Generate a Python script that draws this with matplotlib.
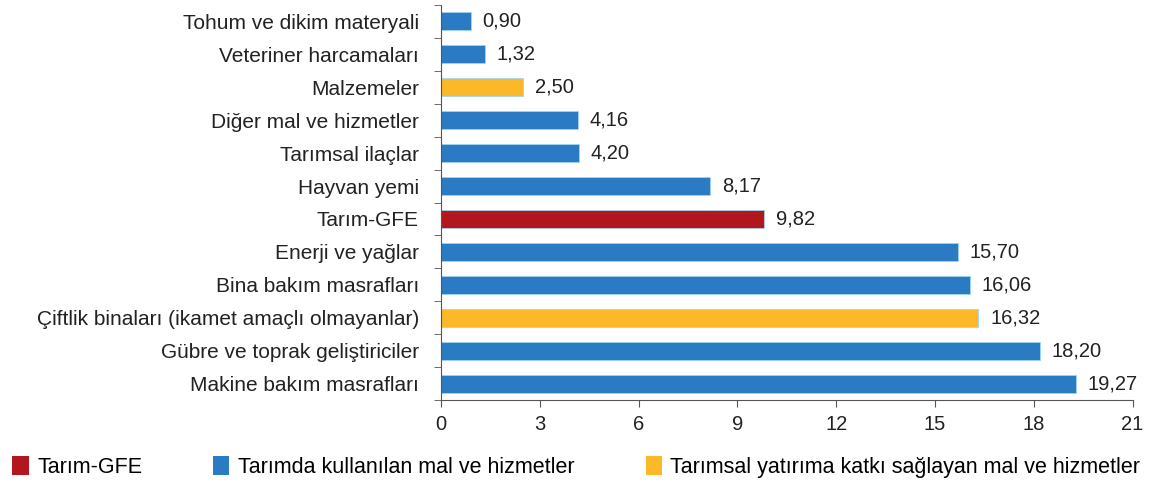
import numpy as np
import matplotlib.pyplot as plt
from matplotlib.patches import Patch

plt.rcParams['font.family'] = ['Liberation Sans', 'DejaVu Sans']

categories = [
    "Makine bakım masrafları",
    "Gübre ve toprak geliştiriciler",
    "Çiftlik binaları (ikamet amaçlı olmayanlar)",
    "Bina bakım masrafları",
    "Enerji ve yağlar",
    "Tarım-GFE",
    "Hayvan yemi",
    "Tarımsal ilaçlar",
    "Diğer mal ve hizmetler",
    "Malzemeler",
    "Veteriner harcamaları",
    "Tohum ve dikim materyali",
]
values = [19.27, 18.20, 16.32, 16.06, 15.70, 9.82, 8.17, 4.20, 4.16, 2.50, 1.32, 0.90]
groups = ["use", "use", "inv", "use", "use", "gfe", "use", "use", "use", "inv", "use", "use"]

group_colors = {"gfe": "#b3171d", "use": "#2a7bc4", "inv": "#fbb829"}
legend_labels = {
    "gfe": "Tarım-GFE",
    "use": "Tarımda kullanılan mal ve hizmetler",
    "inv": "Tarımsal yatırıma katkı sağlayan mal ve hizmetler",
}

fig = plt.figure(figsize=(11.64, 4.88), dpi=100)
ax = fig.add_axes([0.379, 0.18, 0.594, 0.81])

y = np.arange(len(categories))
colors = [group_colors[g] for g in groups]
ax.barh(y, values, height=0.55, color=colors, edgecolor='#9fd4f0', linewidth=0.6)

for yi, v in zip(y, values):
    ax.text(v + 0.35, yi, f"{v:.2f}".replace('.', ','), va='center', ha='left',
            fontsize=14.5, color='#222222')

ax.set_xlim(0, 21)
ax.set_ylim(-0.5, len(categories) - 0.5)
ax.set_xticks(np.arange(0, 22, 3))
ax.tick_params(axis='x', labelsize=14.5, length=5, colors='#555555', labelcolor='#222222', pad=6)

ax.set_yticks(y)
ax.set_yticklabels(categories, fontsize=15, color='#222222')
ax.tick_params(axis='y', length=0, pad=16)
ax.set_yticks(np.arange(-0.5, len(categories), 1), minor=True)
ax.tick_params(axis='y', which='minor', length=5, color='#555555')

for s in ['top', 'right']:
    ax.spines[s].set_visible(False)
for s in ['left', 'bottom']:
    ax.spines[s].set_color('#555555')

handles = [Patch(facecolor=group_colors[k], label=legend_labels[k]) for k in ["gfe", "use", "inv"]]
fig.legend(handles=handles, loc='center left', bbox_to_anchor=(-0.006, 0.043), ncol=3,
           frameon=False, fontsize=15.5, handlelength=0.75, handleheight=0.95,
           handletextpad=0.4, columnspacing=3.3)

fig.savefig('out.png', dpi=100)
